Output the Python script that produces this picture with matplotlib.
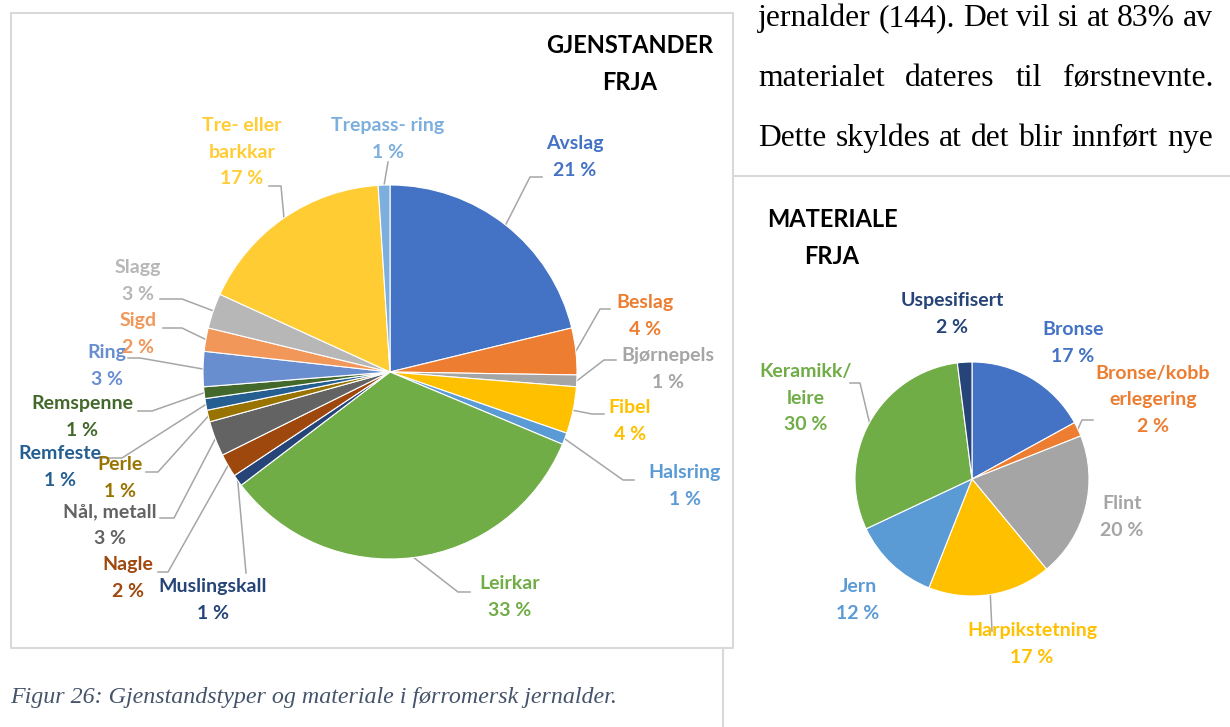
import numpy as np
import matplotlib.pyplot as plt

plt.rcParams['font.family'] = ['Lato', 'DejaVu Sans']

W, H = 1230, 727

# Gjenstander FRJA (prosent, med klokka fra toppen)
gj_navn = ["Avslag", "Beslag", "Bjørnepels", "Fibel", "Halsring", "Leirkar",
           "Muslingskall", "Nagle", "Nål, metall", "Perle", "Remfeste",
           "Remspenne", "Ring", "Sigd", "Slagg", "Tre- eller\nbarkkar",
           "Trepass- ring"]
gj_pst = [21, 4, 1, 4, 1, 33, 1, 2, 3, 1, 1, 1, 3, 2, 3, 17, 1]
gj_farger = ["#4472C4", "#ED7D31", "#A5A5A5", "#FFC000", "#5B9BD5", "#70AD47",
             "#264478", "#9E480E", "#636363", "#997300", "#255E91", "#43682B",
             "#698ED0", "#F1975A", "#B7B7B7", "#FFCD33", "#7CAFDD"]

# Materiale FRJA
mat_navn = ["Bronse", "Bronse/kobb\nerlegering", "Flint", "Harpikstetning",
            "Jern", "Keramikk/\nleire", "Uspesifisert"]
mat_pst = [17, 2, 20, 17, 12, 30, 2]
mat_farger = ["#4472C4", "#ED7D31", "#A5A5A5", "#FFC000", "#5B9BD5",
              "#70AD47", "#264478"]

# plassering av etiketter (px, y nedover) og linjer (x, y, dx) eller None
gj_tekst = [(575, 157), (645, 316), (668, 369), (630, 421), (685, 486),
            (510, 597), (213, 600), (128, 578), (110, 525), (120, 478),
            (60, 467), (82, 417), (107, 366), (138, 334), (138, 281),
            (242, 152), (388, 139)]
gj_linje = [(542, 177, -12), (610, 309, -10), (616, 360, -12), (604, 414, -12),
            (634, 480, -11), (470, 592, -12), (246, 573, 0), (158, 572, 10),
            (160, 518, 14), (146, 472, 12), (102, 458, 20), (138, 411, 14),
            (128, 358, 12), (163, 328, 19), (160, 299, 22), (269, 186, 12),
            (388, 162, 0)]

mat_tekst = [(1073, 343), (1153, 400), (1122, 517), (1032, 644), (858, 600),
             (806, 398), (952, 314)]
mat_linje = [None, (1093, 420, -11), None, (992, 631, 0), None,
             (850, 383, 10), None]

grid = "#D9D9D9"
leader = "#A6A6A6"


def py(y):
    return H - y


def rand(cx, cy, r, verdier, i):
    cum = np.cumsum(verdier)
    mid = (cum[i] - verdier[i] / 2) / cum[-1]
    a = np.deg2rad(90 - 360 * mid)
    return cx + r * np.cos(a), cy - r * np.sin(a)


def kake(ax, cx, cy, r, navn, verdier, farger, tekster, linjer):
    ax.pie(verdier, colors=farger, startangle=90, counterclock=False,
           center=(cx, py(cy)), radius=r,
           wedgeprops=dict(edgecolor="white", linewidth=0.8))
    for i, n in enumerate(navn):
        tx, ty = tekster[i]
        ax.text(tx, py(ty), f"{n}\n{verdier[i]} %", ha="center", va="center",
                fontsize=14, fontweight="bold", color=farger[i],
                linespacing=1.68, zorder=5)
        if linjer[i] is not None:
            lx, ly, dx = linjer[i]
            ax_, ay = rand(cx, cy, r, verdier, i)
            ax.plot([lx, lx + dx, ax_], [py(ly), py(ly), py(ay)],
                    color=leader, lw=1.1, zorder=0)


fig = plt.figure(figsize=(W / 100, H / 100), dpi=100)
ax = fig.add_axes([0, 0, 1, 1])

kake(ax, 390, 372, 187, gj_navn, gj_pst, gj_farger, gj_tekst, gj_linje)
kake(ax, 972, 479, 117, mat_navn, mat_pst, mat_farger, mat_tekst, mat_linje)

ax.text(630, py(64), "GJENSTANDER\nFRJA", ha="center", va="center",
        fontsize=17, fontweight="bold", color="black", linespacing=1.72)
ax.text(832, py(238), "MATERIALE\nFRJA", ha="center", va="center",
        fontsize=17, fontweight="bold", color="black", linespacing=1.72)

# rammer
ax.plot([11, 733, 733, 11, 11], [py(13), py(13), py(648), py(648), py(13)],
        color=grid, lw=1.5, zorder=0)
ax.plot([733, W], [py(176), py(176)], color=grid, lw=1.5, zorder=0)
ax.plot([723, 723], [py(648), py(727)], color=grid, lw=1.5, zorder=0)

ax.text(10, py(697), "Figur 26: Gjenstandstyper og materiale i førromersk jernalder.",
        ha="left", va="center", fontsize=17.3, style="italic",
        family="Liberation Serif", color="#44546A")

ax.set_xlim(0, W)
ax.set_ylim(0, H)
ax.set_aspect("auto")
ax.axis("off")

# brødtekst, blokkjustert; skriftstørrelse tilpasset første linje
linjer = ["jernalder (144). Det vil si at 83% av",
          "materialet dateres til førstnevnte.",
          "Dette skyldes at det blir innført nye"]
grunnlinjer = [26, 86, 146]
x0, x1 = 758, 1213
r = fig.canvas.get_renderer()
prove = ax.text(0, 0, linjer[0], fontsize=20, family="Liberation Serif")
fs = 20 * (x1 - x0) / prove.get_window_extent(r).width
prove.remove()
for linje, gl in zip(linjer, grunnlinjer):
    ord_ = linje.split()
    tt = [ax.text(0, py(gl), o, ha="left", va="baseline", fontsize=fs,
                  family="Liberation Serif", color="black") for o in ord_]
    bredder = [t.get_window_extent(r).width for t in tt]
    mellom = (x1 - x0 - sum(bredder)) / (len(ord_) - 1)
    x = x0
    for t, b in zip(tt, bredder):
        t.set_x(x)
        x += b + mellom

fig.savefig("out.png", dpi=100)
